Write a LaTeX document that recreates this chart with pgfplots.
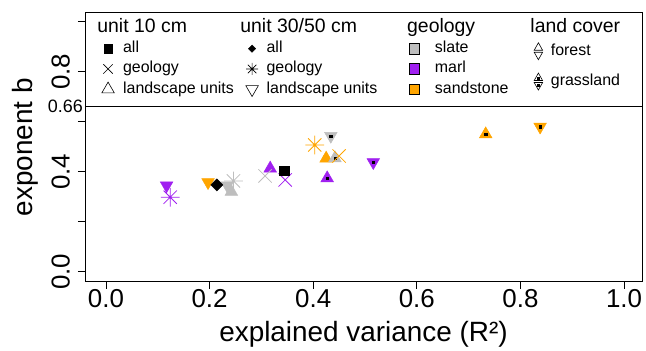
\documentclass[border=0pt]{standalone}
\usepackage{fontspec}
\setmainfont{Liberation Sans}
\usepackage{pgfplots}
\pgfplotsset{compat=1.18}
\definecolor{rgrey}{RGB}{190,190,190}
\definecolor{rpurple}{RGB}{160,32,240}
\definecolor{rorange}{RGB}{255,165,0}
\pgfdeclareplotmark{rast}{%
  \pgfpathmoveto{\pgfqpoint{-\pgfplotmarksize}{0pt}}\pgfpathlineto{\pgfqpoint{\pgfplotmarksize}{0pt}}%
  \pgfpathmoveto{\pgfqpoint{0pt}{-\pgfplotmarksize}}\pgfpathlineto{\pgfqpoint{0pt}{\pgfplotmarksize}}%
  \pgfpathmoveto{\pgfqpoint{-.70710678\pgfplotmarksize}{-.70710678\pgfplotmarksize}}\pgfpathlineto{\pgfqpoint{.70710678\pgfplotmarksize}{.70710678\pgfplotmarksize}}%
  \pgfpathmoveto{\pgfqpoint{-.70710678\pgfplotmarksize}{.70710678\pgfplotmarksize}}\pgfpathlineto{\pgfqpoint{.70710678\pgfplotmarksize}{-.70710678\pgfplotmarksize}}%
  \pgfusepathqstroke}
\pgfplotsset{
  base/.style={scale only axis, width=557bp, height=269.4bp,
    xmin=-0.0405, xmax=1.0347, ymin=-0.04, ymax=1.0376, clip=false},
  leg/.style={base, hide axis,
    legend style={draw=none, fill=none, inner sep=0pt, outer sep=0pt,
      font=\fontsize{16}{16}\selectfont, row sep=3.3bp,
      nodes={inner sep=1bp, text height=11.5bp, text depth=3.5bp},
      anchor=north west},
    legend cell align=left,
    legend image code/.code={\draw[##1] plot coordinates {(0bp,0bp)};}},
  ptri/.style={only marks, mark=triangle*, mark size=7.3bp, color=#1, mark options={line width=0.5bp}},
  ptrd/.style={only marks, mark=triangle*, mark size=7.3bp, color=#1, mark options={rotate=180, line width=0.5bp}},
  pdot/.style={only marks, mark=square*, mark size=1.2bp, black},
}
\begin{document}
\begin{tikzpicture}
\path (-85bp,-69.3bp) rectangle (561bp,281.7bp);
\begin{axis}[base,
  axis line style={line width=0.8bp},
  tick align=outside, major tick length=7bp,
  tick style={line width=0.8bp, black},
  xtick pos=left, ytick pos=left,
  xtick={0,0.2,0.4,0.6,0.8,1}, xticklabels={0.0,0.2,0.4,0.6,0.8,1.0},
  ytick={0,0.2,0.4,0.6,0.8,1}, yticklabels={0.0,,0.4,,0.8,},
  ticklabel style={font=\fontsize{26}{26}\selectfont, inner sep=1bp},
  yticklabel style={rotate=90, anchor=south},
  yticklabel shift=7bp,
  xlabel={explained variance (R²)}, ylabel={exponent b},
  label style={font=\fontsize{28}{28}\selectfont},
  xlabel style={at={(axis description cs:0.5,0)}, anchor=base, yshift=-60bp},
  ylabel style={at={(axis description cs:-0.0934,0.5)}, anchor=base},
]
\addplot[black, line width=1.2bp, forget plot] coordinates {(-0.0405,0.66) (1.0347,0.66)};
% 30/50 cm landscape units, forest (triangle down)
\addplot[ptrd=rpurple] coordinates {(0.117,0.345)};
\addplot[ptrd=rorange] coordinates {(0.197,0.358)};
\addplot[ptrd=rgrey] coordinates {(0.234,0.345)};
% 10 cm landscape units, forest (triangle up)
\addplot[ptri=rgrey] coordinates {(0.242,0.320)};
\addplot[ptri=rpurple] coordinates {(0.317,0.413)};
\addplot[ptri=rorange] coordinates {(0.425,0.453)};
% grassland
\addplot[ptri=rgrey] coordinates {(0.442,0.454)};
\addplot[ptri=rpurple] coordinates {(0.427,0.374)};
\addplot[ptri=rorange] coordinates {(0.733,0.550)};
\addplot[ptrd=rgrey] coordinates {(0.434,0.543)};
\addplot[ptrd=rpurple] coordinates {(0.516,0.438)};
\addplot[ptrd=rorange] coordinates {(0.838,0.580)};
\addplot[pdot] coordinates {(0.442,0.454) (0.427,0.374) (0.733,0.550) (0.434,0.543) (0.516,0.438) (0.838,0.580)};
% 10 cm geology (x)
\addplot[only marks, mark=x, mark size=9.4bp, rgrey, line width=0.8bp] coordinates {(0.307,0.383)};
\addplot[only marks, mark=x, mark size=9.4bp, rpurple, line width=0.8bp] coordinates {(0.346,0.367)};
\addplot[only marks, mark=x, mark size=9.4bp, rorange, line width=0.8bp] coordinates {(0.450,0.463)};
% 30/50 cm geology (asterisk)
\addplot[only marks, mark=rast, mark size=9.4bp, rpurple, line width=0.8bp] coordinates {(0.124,0.298)};
\addplot[only marks, mark=rast, mark size=9.4bp, rgrey, line width=0.8bp] coordinates {(0.246,0.363)};
\addplot[only marks, mark=rast, mark size=9.4bp, rorange, line width=0.8bp] coordinates {(0.403,0.507)};
% all
\addplot[only marks, mark=square*, mark size=4.65bp, black] coordinates {(0.344,0.403)};
\addplot[only marks, mark=square*, mark size=4.3bp, black, mark options={rotate=45}] coordinates {(0.214,0.347)};
% texts
\node[anchor=east, inner sep=0pt, font=\fontsize{18}{18}\selectfont] at (axis cs:-0.0445,0.66) {0.66};
\node[anchor=base west, inner sep=0pt, font=\fontsize{19.5}{19.5}\selectfont] at (axis cs:-0.017,0.956) {unit 10 cm};
\node[anchor=base west, inner sep=0pt, font=\fontsize{19.5}{19.5}\selectfont] at (axis cs:0.259,0.956) {unit 30/50 cm};
\node[anchor=base west, inner sep=0pt, font=\fontsize{19.5}{19.5}\selectfont] at (axis cs:0.581,0.956) {geology};
\node[anchor=base west, inner sep=0pt, font=\fontsize{19.5}{19.5}\selectfont] at (axis cs:0.819,0.956) {land cover};
\end{axis}
% legend column 1
\begin{axis}[leg, legend style={at={(axis cs:-0.008,0.926)}, column sep=7.8bp}]
\addlegendimage{mark=square*, mark size=4.15bp, black}\addlegendentry{all}
\addlegendimage{mark=x, mark size=6.6bp, black, line width=0.6bp}\addlegendentry{geology}
\addlegendimage{mark=triangle, mark size=7.2bp, black, line width=0.6bp}\addlegendentry{landscape units}
\end{axis}
% legend column 2
\begin{axis}[leg, legend style={at={(axis cs:0.270,0.926)}, column sep=7.3bp}]
\addlegendimage{mark=square*, mark size=2.6bp, black, mark options={rotate=45}}\addlegendentry{all}
\addlegendimage{mark=rast, mark size=6bp, black, line width=0.6bp}\addlegendentry{geology}
\addlegendimage{mark=triangle, mark size=7.2bp, black, line width=0.6bp, mark options={rotate=180}}\addlegendentry{landscape units}
\end{axis}
% legend column 3
\begin{axis}[leg, legend style={at={(axis cs:0.585,0.926)}, column sep=14.2bp}]
\addlegendimage{mark=square*, mark size=5.35bp, draw=black, fill=rgrey, line width=0.6bp}\addlegendentry{slate}
\addlegendimage{mark=square*, mark size=5.35bp, draw=black, fill=rpurple, line width=0.6bp}\addlegendentry{marl}
\addlegendimage{mark=square*, mark size=5.35bp, draw=black, fill=rorange, line width=0.6bp}\addlegendentry{sandstone}
\end{axis}
% legend column 4
\begin{axis}[leg, legend style={at={(axis cs:0.826,0.917)}, column sep=7bp, row sep=12.7bp}]
\addlegendimage{legend image code/.code={
  \draw[line width=0.6bp] (-4.2bp,1bp) -- (4.2bp,1bp) -- (0bp,8.5bp) -- cycle;
  \draw[line width=0.6bp] (-4.2bp,-1bp) -- (4.2bp,-1bp) -- (0bp,-8.5bp) -- cycle;}}
\addlegendentry{forest}
\addlegendimage{legend image code/.code={
  \draw[line width=0.6bp] (-4.2bp,1bp) -- (4.2bp,1bp) -- (0bp,8.5bp) -- cycle;
  \draw[line width=0.6bp] (-4.2bp,-1bp) -- (4.2bp,-1bp) -- (0bp,-8.5bp) -- cycle;
  \fill (-1bp,2.6bp) rectangle (1bp,4.6bp);
  \fill (-1bp,-2.6bp) rectangle (1bp,-4.6bp);}}
\addlegendentry{grassland}
\end{axis}
\end{tikzpicture}
\end{document}
